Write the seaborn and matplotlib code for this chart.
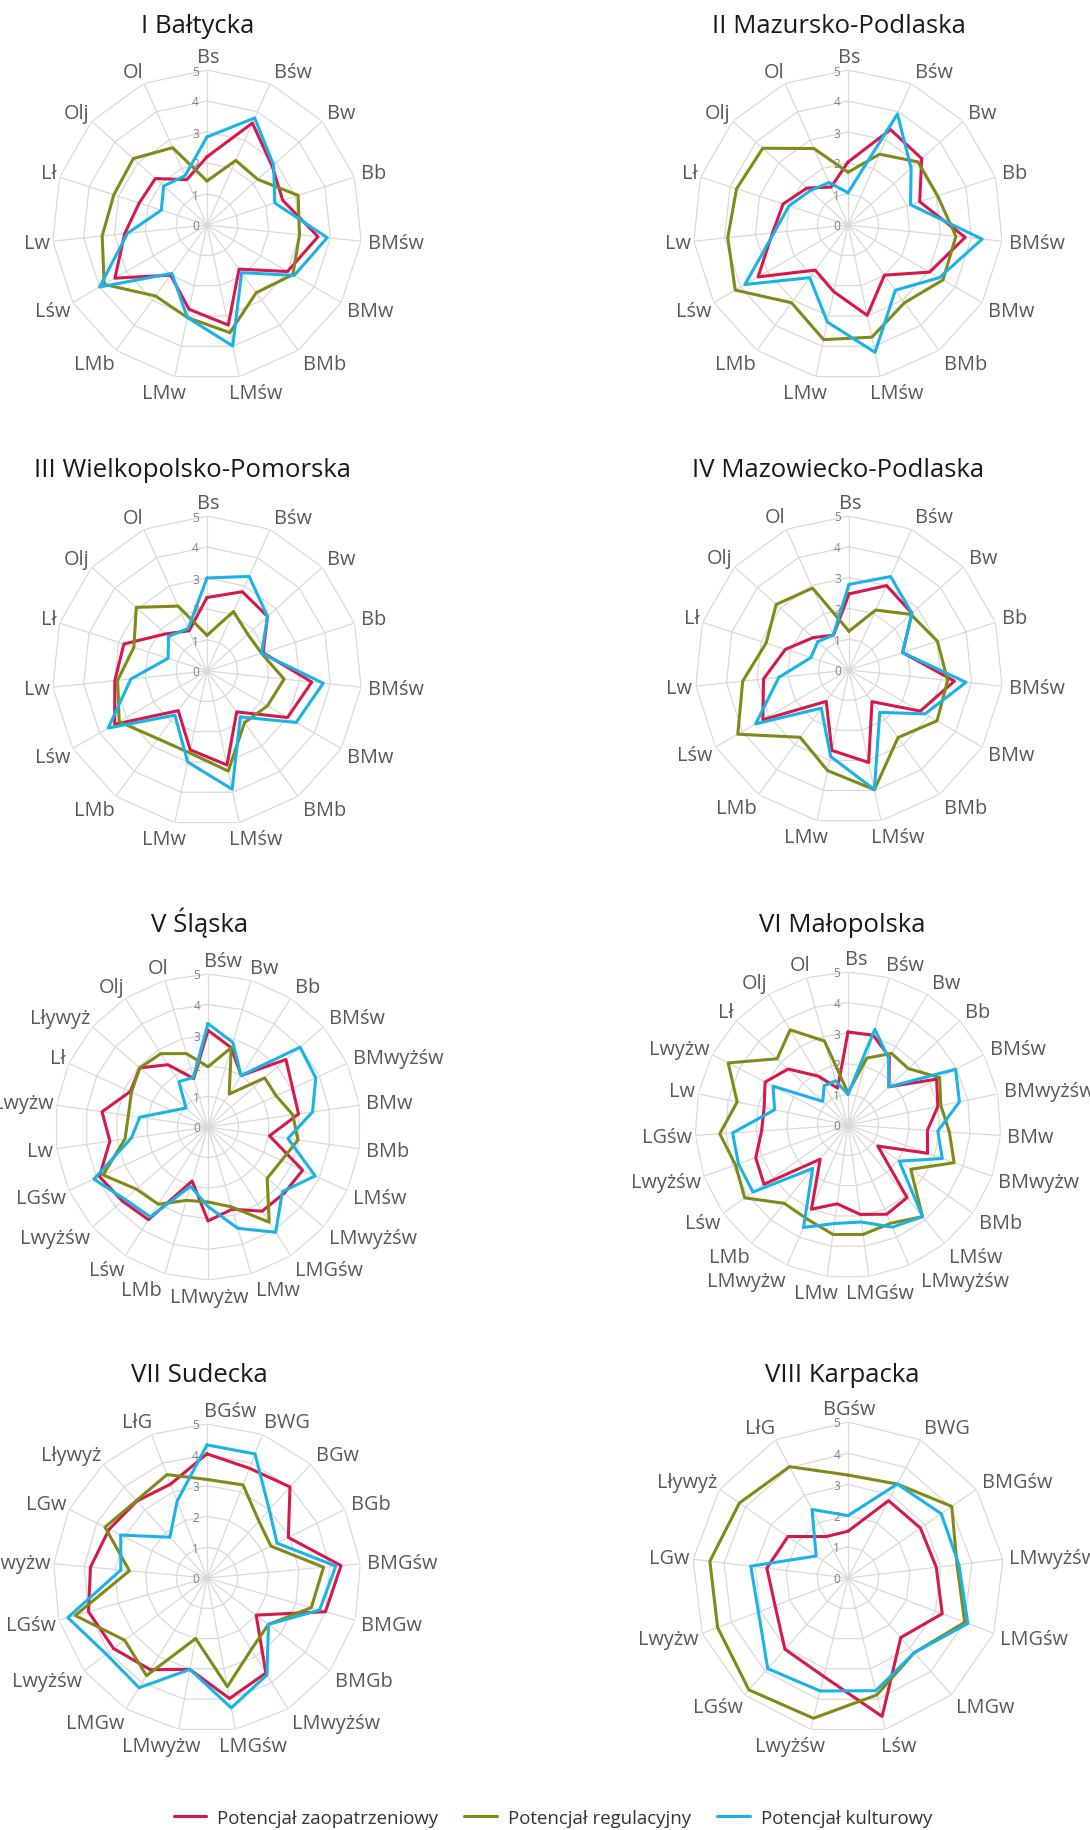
import numpy as np
import pandas as pd
import seaborn as sns
import matplotlib.pyplot as plt
from matplotlib.lines import Line2D

sns.set_style('white')
plt.rcParams['font.family'] = ['Open Sans', 'DejaVu Sans']

W, H = 1090, 1831

series_names = ['Potencjał zaopatrzeniowy', 'Potencjał regulacyjny', 'Potencjał kulturowy']
colors = ['#D7184B', '#7F8A19', '#1AB3E8']

# --- I Bałtycka ---
labels_1 = ['Bs', 'Bśw', 'Bw', 'Bb', 'BMśw', 'BMw', 'BMb', 'LMśw', 'LMw', 'LMb', 'Lśw', 'Lw', 'Lł', 'Olj', 'Ol']
red_1 = [2.2, 3.6, 2.83, 2.57, 3.6, 3.0, 1.76, 3.3, 2.78, 2.0, 3.43, 2.67, 2.3, 2.24, 1.6]
olive_1 = [1.42, 2.28, 2.2, 3.09, 3.0, 3.2, 2.7, 3.55, 3.05, 2.83, 3.83, 3.4, 3.16, 3.2, 2.73]
blue_1 = [2.84, 3.78, 2.89, 2.3, 3.9, 3.25, 1.9, 3.99, 3.05, 1.93, 4.0, 2.58, 1.55, 1.88, 1.74]

# --- II Mazursko-Podlaska ---
labels_2 = labels_1
red_2 = [2.03, 3.37, 3.2, 2.43, 3.8, 3.04, 2.0, 2.98, 2.2, 1.8, 3.35, 2.45, 2.2, 1.78, 1.34]
olive_2 = [1.7, 2.5, 3.04, 3.04, 3.5, 3.54, 3.1, 3.7, 3.78, 3.1, 4.2, 3.9, 3.78, 3.7, 2.7]
blue_2 = [1.04, 3.92, 2.74, 2.12, 4.35, 3.4, 2.6, 4.2, 3.2, 2.1, 3.84, 2.4, 2.0, 1.65, 1.5]

# --- III Wielkopolsko-Pomorska ---
labels_3 = labels_1
red_3 = [2.37, 2.8, 2.63, 1.9, 3.4, 3.0, 1.63, 3.1, 2.6, 1.58, 3.44, 2.99, 2.82, 1.79, 1.42]
olive_3 = [1.15, 2.1, 1.77, 1.85, 2.5, 2.25, 2.06, 3.3, 2.7, 2.7, 3.27, 2.9, 2.48, 3.07, 2.29]
blue_3 = [3.0, 3.34, 2.63, 1.85, 3.77, 3.32, 1.83, 3.9, 3.0, 1.76, 3.68, 2.47, 1.32, 1.67, 1.5]

# --- IV Mazowiecko-Podlaska ---
labels_4 = labels_1
red_4 = [2.47, 3.0, 2.75, 1.83, 3.44, 2.67, 1.27, 3.07, 2.67, 1.26, 3.23, 2.79, 2.17, 1.57, 1.24]
olive_4 = [1.26, 2.13, 2.7, 3.02, 3.22, 3.3, 2.71, 3.97, 3.34, 2.7, 4.17, 3.47, 2.83, 3.18, 2.91]
blue_4 = [2.78, 3.32, 2.75, 1.83, 3.82, 2.85, 1.7, 3.97, 2.87, 1.53, 3.5, 2.29, 1.3, 1.37, 1.25]

# --- V Śląska ---
labels_5 = ['Bśw', 'Bw', 'Bb', 'BMśw', 'BMwyżśw', 'BMw', 'BMb', 'LMśw', 'LMwyżśw', 'LMGśw', 'LMw',
            'LMwyżw', 'LMb', 'Lśw', 'Lwyżśw', 'LGśw', 'Lw', 'Lwyżw', 'Lł', 'Lływyż', 'Olj', 'Ol']
red_5 = [3.16, 2.7, 2.0, 3.37, 3.04, 2.99, 2.03, 3.4, 3.3, 3.27, 2.8, 3.07, 1.84, 3.6, 3.7, 3.9,
         3.24, 3.5, 2.79, 2.95, 2.42, 1.65]
olive_5 = [1.97, 2.7, 1.28, 2.45, 2.45, 2.8, 2.97, 2.64, 2.56, 3.7, 2.72, 2.45, 2.5, 3.0, 3.1, 3.77,
           2.74, 2.63, 2.75, 2.95, 2.85, 2.5]
blue_5 = [3.38, 2.88, 2.0, 3.98, 3.87, 3.45, 2.64, 3.85, 3.22, 4.09, 3.45, 2.6, 2.02, 3.49, 3.6, 4.1,
          2.53, 2.25, 1.28, 0.95, 1.76, 1.69]

# --- VI Małopolska ---
labels_6 = ['Bs', 'Bśw', 'Bw', 'Bb', 'BMśw', 'BMwyżśw', 'BMw', 'BMwyżw', 'BMb', 'LMśw', 'LMwyżśw',
            'LMGśw', 'LMw', 'LMwyżw', 'LMb', 'Lśw', 'Lwyżśw', 'LGśw', 'Lw', 'Lwyżw', 'Lł', 'Olj', 'Ol']
red_6 = [3.04, 3.05, 2.6, 1.83, 3.26, 3.0, 2.6, 2.76, 1.19, 3.06, 3.18, 2.95, 2.6, 3.0, 1.44, 3.36,
         3.2, 2.83, 2.8, 3.05, 2.68, 1.87, 1.25]
olive_6 = [1.05, 2.27, 2.74, 2.7, 3.37, 3.1, 3.32, 3.68, 2.51, 3.86, 3.5, 3.61, 3.61, 3.35, 3.3, 4.13,
           3.9, 4.2, 3.7, 4.41, 3.17, 3.64, 2.85]
blue_6 = [1.0, 3.25, 2.55, 1.83, 3.96, 3.72, 2.94, 3.27, 2.05, 3.86, 3.64, 3.2, 3.25, 3.65, 1.83, 3.8,
          3.8, 3.78, 2.45, 2.76, 1.13, 1.5, 1.5]

# --- VII Sudecka ---
labels_7 = ['BGśw', 'BWG', 'BGw', 'BGb', 'BMGśw', 'BMGw', 'BMGb', 'LMwyżśw', 'LMGśw', 'LMwyżw',
            'LMGw', 'Lwyżśw', 'LGśw', 'Lwyżw', 'LGw', 'Lływyż', 'LłG']
red_7 = [4.03, 3.82, 4.0, 2.95, 4.37, 4.0, 2.0, 3.63, 3.98, 3.02, 3.5, 3.8, 4.0, 3.8, 3.55, 3.38, 3.27]
olive_7 = [3.2, 3.24, 2.5, 2.32, 3.8, 3.52, 2.5, 2.73, 3.59, 2.0, 3.73, 3.35, 4.45, 2.53, 3.7, 3.4, 3.6]
blue_7 = [4.32, 4.32, 3.0, 2.54, 4.2, 3.8, 2.5, 3.7, 4.29, 3.02, 4.19, 4.1, 4.7, 2.81, 3.13, 1.79, 2.68]

# --- VIII Karpacka ---
labels_8 = ['BGśw', 'BWG', 'BMGśw', 'LMwyżśw', 'LMGśw', 'LMGw', 'Lśw', 'Lwyżśw', 'LGśw', 'Lwyżw',
            'LGw', 'Lływyż', 'LłG']
red_8 = [1.5, 2.8, 2.82, 2.85, 3.23, 2.55, 4.57, 3.25, 3.05, 2.5, 2.62, 2.34, 1.5]
olive_8 = [3.3, 3.4, 4.04, 3.52, 4.0, 3.2, 3.86, 4.63, 4.79, 4.47, 4.46, 4.23, 4.03]
blue_8 = [2.0, 3.4, 3.63, 3.58, 4.11, 3.2, 3.72, 3.73, 3.88, 3.07, 3.14, 1.24, 2.48]

titles = ['I Bałtycka', 'II Mazursko-Podlaska', 'III Wielkopolsko-Pomorska', 'IV Mazowiecko-Podlaska',
          'V Śląska', 'VI Małopolska', 'VII Sudecka', 'VIII Karpacka']

# layout: plot centre (px), radius of value 5 (px), title position (px)
layout = [
    ((207, 226, 155), (198, 33)),
    ((848, 226, 155), (839, 33)),
    ((207, 672, 155), (193, 477)),
    ((849, 671, 154), (838, 477)),
    ((208, 1128, 153), (200, 932)),
    ((848, 1126, 153), (842, 932)),
    ((207, 1579, 154), (199, 1382)),
    ((848, 1579, 156), (842, 1382)),
]

panels = [
    (labels_1, red_1, olive_1, blue_1),
    (labels_2, red_2, olive_2, blue_2),
    (labels_3, red_3, olive_3, blue_3),
    (labels_4, red_4, olive_4, blue_4),
    (labels_5, red_5, olive_5, blue_5),
    (labels_6, red_6, olive_6, blue_6),
    (labels_7, red_7, olive_7, blue_7),
    (labels_8, red_8, olive_8, blue_8),
]

grid_color = '#D9D9D9'
label_color = '#595959'

fig = plt.figure(figsize=(W / 100, H / 100), dpi=100)
fig.patch.set_facecolor('white')
renderer = fig.canvas.get_renderer()

for (labels, red, olive, blue), title, ((cx, cy, R), (tx, ty)) in zip(panels, titles, layout):
    ax = fig.add_axes([(cx - R) / W, 1 - (cy + R) / H, 2 * R / W, 2 * R / H], projection='polar')
    ax.set_theta_zero_location('N')
    ax.set_theta_direction(-1)
    n = len(labels)
    thetas = np.arange(n) * 2 * np.pi / n
    th_closed = np.append(thetas, 2 * np.pi)

    # polygon grid + spokes
    for lev in range(1, 6):
        ax.plot(th_closed, [lev] * (n + 1), color=grid_color, lw=0.9, zorder=1)
    for th in thetas:
        ax.plot([th, th], [0, 5], color=grid_color, lw=0.9, zorder=1)

    # data
    rows = []
    for name, vals in zip(series_names, [red, olive, blue]):
        vv = list(vals) + [vals[0]]
        for t, v in zip(th_closed, vv):
            rows.append({'theta': t, 'value': v, 'series': name})
    df = pd.DataFrame(rows)
    sns.lineplot(data=df, x='theta', y='value', hue='series', hue_order=series_names,
                 palette=colors, sort=False, estimator=None, legend=False, ax=ax,
                 linewidth=2.2, zorder=3)

    ax.set_ylim(0, 5)
    ax.set_xticks([])
    ax.set_yticks([])
    ax.grid(False)
    ax.spines['polar'].set_visible(False)
    ax.set_xlabel('')
    ax.set_ylabel('')
    ax.set_facecolor('none')

    # radial tick labels
    for v in range(6):
        ax.annotate(str(v), xy=(0, v), xytext=(-8, -1), textcoords='offset pixels',
                    ha='right', va='center', fontsize=8.6, color='#808080',
                    annotation_clip=False, zorder=4)

    # category labels around the polygon
    info = []
    for k, (th, lab) in enumerate(zip(thetas, labels)):
        t = ax.annotate(lab, xy=(th, 5), xytext=(0, 0), textcoords='offset pixels',
                        ha='center', va='center', fontsize=14.3, color=label_color,
                        annotation_clip=False)
        bb = t.get_window_extent(renderer)
        s, c = np.sin(th), np.cos(th)
        vx, vy = ax.transData.transform((th, 5))
        dx = np.sign(s) * bb.width / 2 * min(1.0, abs(s) * 2.5) + 5 * s + 1.5
        if k == 0 and n > 15:
            dx = bb.width / 2 - 3
        dy = c * (bb.height / 2 + (3 if c > 0 else 7))
        info.append([t, vx, vy, bb.width, bb.height, dx, dy])

    # spread crowded labels apart horizontally
    for it in range(60):
        moved = False
        for i in range(n):
            for j in range(i + 1, n):
                a, b = info[i], info[j]
                ya, yb = a[2] + a[6], b[2] + b[6]
                if abs(ya - yb) >= 0.36 * (a[4] + b[4]):
                    continue
                xa, xb = a[1] + a[5], b[1] + b[5]
                need = (a[3] + b[3]) / 2 + 8 - abs(xa - xb)
                if need > 0.5:
                    sgn = 1 if xb >= xa else -1
                    a[5] -= sgn * need / 2
                    b[5] += sgn * need / 2
                    moved = True
        if not moved:
            break
    for t, vx, vy, w, h, dx, dy in info:
        t.xyann = (dx, dy)

    fig.text(tx / W, 1 - ty / H, title, ha='center', va='baseline', fontsize=18.5, color='#1A1A1A')

handles = [Line2D([0], [0], color=col, lw=2.2) for col in colors]
fig.legend(handles, series_names, loc='center', bbox_to_anchor=(553 / W, 1 - 1819 / H), ncol=3,
           frameon=False, fontsize=13.4, handlelength=1.75, handletextpad=0.6, columnspacing=1.4,
           labelcolor='#333333')

fig.savefig('out.png', dpi=100)
